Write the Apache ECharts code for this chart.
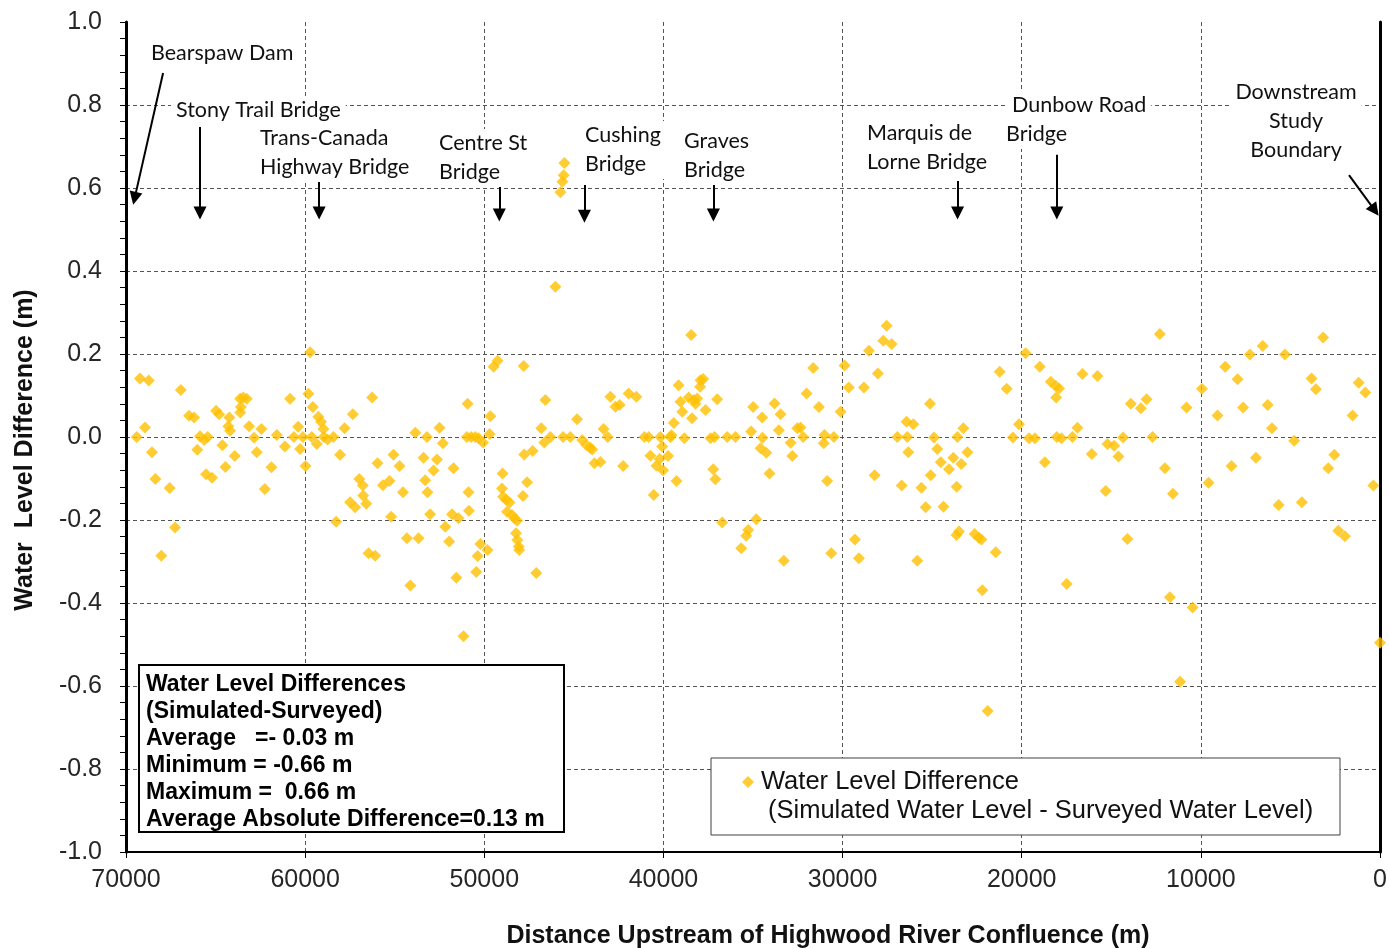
<!DOCTYPE html>
<html>
<head>
<meta charset="utf-8">
<title>Water Level Difference along the Bow River</title>
<script src="https://cdn.jsdelivr.net/npm/echarts@6/dist/echarts.min.js"></script>
<style>
  html, body { margin: 0; padding: 0; background: #fff; }
  #chart { width: 1389px; height: 948px; }
</style>
</head>
<body>
<div id="chart"></div>
<script>
// Distance upstream of the Highwood River confluence (m)
const distance = [
  69400, 69220, 68730, 68940, 68550, 68360, 68030, 67560, 67260, 66940,
  66480, 66200, 66020, 65870, 65640, 65440, 65530, 65200, 64970, 64800,
  64620, 64450, 64230, 64290, 64190, 63930, 63630, 63450, 63260, 63590,
  63620, 63130, 62850, 62700, 62440, 62250, 61880, 61580, 61130, 60840,
  60630, 60390, 60280, 60130, 59980, 59720, 59820, 59570, 59260, 59110,
  58980, 59630, 59350, 58960, 58750, 58420, 58050, 58270, 57800, 57340,
  56260, 55960, 56980, 56780, 56760, 56590, 57490, 57210, 56460, 56090,
  55660, 55290,
  55200, 55070, 54730, 54540, 54320, 54130, 53850, 53670, 53390, 53300,
  53170, 53200, 53020, 52830, 52640, 52500, 52310, 52180, 51960, 51800,
  51720, 51560, 51440, 51160, 50930, 50880, 50860, 50970, 50730, 50500,
  50320, 50070, 50450, 50370, 50220, 49820, 49700, 49660, 49480, 49260,
  48980, 49010, 48950, 48770, 48590, 48730, 48450, 48320, 48170, 48230,
  48160, 48080, 48050, 47800, 47840, 47610, 47770, 47300, 47100, 46820,
  46590, 46650, 46310, 45530, 45570, 45640, 45750, 46030, 45600, 45200,
  44820, 44540, 44300, 44080, 43980, 43850, 43520, 43340, 43110, 42960,
  42680, 42440, 42250, 41940, 41510,
  41060, 40820, 40730, 40390, 40210, 40020, 39740, 40540, 40170, 39610,
  39550, 40070, 39270, 39420, 38830, 38950, 39050, 39150, 38450, 38590,
  38310, 38120, 38210, 38400, 37930, 37780, 37950, 37650, 37000, 37370,
  37150, 37220, 37100, 36440, 35980, 36720, 35100, 34990, 34490, 34470,
  34580, 34260, 34820, 35270, 35380, 35660, 34080, 33800, 33460, 33560,
  33280, 32900, 32810, 32530, 32350, 32200, 32010, 31640, 31320, 31010,
  31050, 30490, 30860, 30630, 30110, 29890, 29650, 29310, 29090, 28810,
  28530, 28210, 28030,
  27540, 27730, 27260, 26940, 26390, 26430, 26050, 26330, 26700, 25830,
  25600, 25360, 25120, 25080, 24900, 24710, 24520, 24370, 24060, 23820,
  23590, 23370, 23260, 23030, 23630, 23640, 23500, 22630, 22390, 22250,
  22200, 21900, 21450, 21230, 20840, 20490, 20150, 19780, 19590, 19260,
  18990, 18710, 18380, 18100, 17920, 18080, 18040, 17780, 17490, 17170,
  16890, 16610, 16090, 15770, 15310, 15210, 14840, 14600, 14340, 14100,
  13910,
  12290, 13350, 13030, 12700, 12010, 11560, 11730, 11160, 10800, 10460,
  9940, 9570, 9070, 8640, 8290, 7950, 7640, 7260, 6930, 6550,
  6270, 6030, 5660, 5310, 4790, 4360, 3820, 3580, 3170, 2890,
  2550, 2330, 1960, 1530, 1190, 820, 370, 0
];

// Simulated minus surveyed water level (m), same order as distance
const difference = [
  0.000, 0.141, 0.136, 0.023, -0.037, -0.101, -0.286, -0.123, -0.218, 0.113,
  0.051, 0.047, -0.031, 0.002, -0.007, 0.000, -0.090, -0.098, 0.063, 0.055,
  -0.020, -0.072, 0.047, 0.026, 0.015, -0.046, 0.092, 0.095, 0.092, 0.072,
  0.059, 0.026, -0.002, -0.037, 0.019, -0.125, -0.073, 0.005, -0.023, 0.092,
  0.000, 0.025, -0.029, 0.000, -0.070, 0.204, 0.104, 0.072, 0.049, 0.037,
  0.019, 0.000, -0.017, 0.000, -0.006, 0.000, -0.043, -0.204, 0.021, 0.055,
  0.095, -0.063, -0.101, -0.117, -0.141, -0.161, -0.157, -0.169, -0.280, -0.286,
  -0.116, -0.106,
  -0.192, -0.043, -0.070, -0.133, -0.244, -0.358, 0.010, -0.244, -0.050, -0.104,
  -0.133, 0.000, -0.186, -0.081, -0.054, 0.022, -0.015, -0.216, -0.252, -0.186,
  -0.075, -0.339, -0.196, -0.480, 0.080, -0.133, -0.178, 0.000, 0.000, 0.000,
  -0.003, -0.013, -0.325, -0.287, -0.258, -0.272, 0.007, 0.050, 0.169, 0.184,
  -0.088, -0.124, -0.144, -0.152, -0.158, -0.180, -0.188, -0.196, -0.202, -0.232,
  -0.248, -0.264, -0.272, 0.171, -0.142, -0.109, -0.042, -0.034, -0.328, 0.021,
  0.089, -0.013, 0.000, 0.660, 0.631, 0.615, 0.590, 0.362, 0.000, 0.000,
  0.043, -0.007, -0.019, -0.026, -0.030, -0.063, -0.060, 0.019, 0.000, 0.097,
  0.073, 0.077, -0.070, 0.105, 0.097,
  0.000, 0.000, -0.045, -0.069, -0.053, -0.080, -0.046, -0.140, 0.000, 0.000,
  0.004, -0.023, -0.106, 0.034, -0.003, 0.061, 0.085, 0.125, 0.246, 0.095,
  0.089, 0.093, 0.080, 0.045, 0.137, 0.140, 0.121, 0.065, 0.091, -0.003,
  0.000, -0.078, -0.102, 0.000, 0.000, -0.206, 0.013, 0.072, 0.047, -0.002,
  -0.027, -0.038, -0.198, -0.224, -0.238, -0.268, -0.088, 0.081, 0.055, 0.016,
  -0.298, -0.014, -0.046, 0.021, 0.023, 0.000, 0.105, 0.166, 0.072, 0.005,
  -0.015, 0.000, -0.106, -0.280, 0.061, 0.172, 0.119, -0.247, -0.292, 0.119,
  0.208, -0.092, 0.153,
  0.268, 0.232, 0.224, 0.000, 0.000, 0.037, 0.031, -0.037, -0.117, -0.298,
  -0.122, -0.169, 0.080, -0.092, -0.001, -0.029, -0.061, -0.168, -0.078, -0.050,
  0.000, -0.065, 0.021, -0.037, -0.120, -0.236, -0.228, -0.234, -0.243, -0.247,
  -0.369, -0.660, -0.278, 0.157, 0.116, -0.001, 0.031, 0.202, -0.003, -0.003,
  0.169, -0.061, 0.133, 0.123, 0.117, 0.095, 0.000, -0.003, -0.354, 0.000,
  0.022, 0.152, -0.041, 0.147, -0.130, -0.017, -0.021, -0.047, -0.001, -0.246,
  0.080,
  0.248, 0.069, 0.091, 0.000, -0.075, -0.137, -0.386, -0.590, 0.071, -0.411,
  0.116, -0.110, 0.052, 0.169, -0.070, 0.139, 0.071, 0.199, -0.050, 0.219,
  0.077, 0.021, -0.164, 0.199, -0.009, -0.157, 0.141, 0.115, 0.240, -0.075,
  -0.043, -0.226, -0.239, 0.052, 0.131, 0.107, -0.117, -0.496
];

// Axis ticks
const xTicks = [70000, 60000, 50000, 40000, 30000, 20000, 10000, 0];
const yTicks = [-1.0, -0.8, -0.6, -0.4, -0.2, 0.0, 0.2, 0.4, 0.6, 0.8, 1.0];

// Landmark pointers: [distance, difference] at the tail and at the arrow head
const pointerTails = [
  [67930, 0.877], [65870, 0.747], [59220, 0.624], [49160, 0.607], [44410, 0.607],
  [37210, 0.607], [23580, 0.617], [18040, 0.680], [1730, 0.631]
];
const pointerHeads = [
  [69520, 0.575], [65870, 0.540], [59220, 0.540], [49160, 0.535], [44410, 0.532],
  [37210, 0.535], [23580, 0.540], [18040, 0.540], [290, 0.546]
];

// Summary statistics
const statLines = [
  'Water Level Differences',
  '(Simulated-Surveyed)',
  'Average   =- 0.03 m',
  'Minimum = -0.66 m',
  'Maximum =  0.66 m',
  'Average Absolute Difference=0.13 m'
];

const seriesName = 'Water Level Difference';
const seriesSubName = '(Simulated Water Level - Surveyed Water Level)';

const points = distance.map((d, i) => [d, difference[i]]);
const pointerData = pointerTails.map((t, i) => [
  { coord: t, symbol: 'none' },
  { coord: pointerHeads[i], symbol: 'triangle', symbolSize: 13 }
]);

const ARIAL = "'Liberation Sans', Arial, sans-serif";
const NOTE_FONT = "21.5px Lato, 'Open Sans', sans-serif";

function note(text, x, yTop, align) {
  return {
    type: 'text', x: x, y: yTop, z: 6, silent: true,
    style: {
      text: text, font: NOTE_FONT, fill: '#111',
      textAlign: align || 'left', textVerticalAlign: 'top',
      lineHeight: 29, backgroundColor: '#fff', padding: [0, 5, 0, 5]
    }
  };
}

const chart = echarts.init(document.getElementById('chart'), null, { renderer: 'canvas' });

chart.setOption({
  animation: false,
  backgroundColor: '#fff',
  grid: {
    left: 126, right: 9, top: 22, bottom: 96,
    containLabel: false, outerBoundsMode: 'none'
  },
  xAxis: {
    type: 'value', inverse: true,
    min: xTicks[xTicks.length - 1], max: xTicks[0], interval: 10000,
    name: 'Distance Upstream of Highwood River Confluence (m)',
    nameLocation: 'middle', nameGap: 72,
    nameTextStyle: {
      fontFamily: ARIAL, fontWeight: 'bold', fontSize: 25, color: '#111',
      padding: [0, 0, 0, 150]
    },
    axisLine: { show: true, onZero: false, lineStyle: { color: '#000', width: 2 } },
    axisTick: { show: true, length: 6, lineStyle: { color: '#000', width: 1 } },
    axisLabel: {
      fontFamily: ARIAL, fontSize: 25, color: '#262626', margin: 16,
      formatter: v => String(v)
    },
    splitLine: {
      show: true, showMinLine: false, showMaxLine: false,
      lineStyle: { color: '#555', width: 1, type: [4, 3] }
    }
  },
  yAxis: [{
    type: 'value',
    min: yTicks[0], max: yTicks[yTicks.length - 1], interval: 0.2,
    name: 'Water  Level Difference (m)',
    nameLocation: 'middle', nameGap: 88,
    nameTextStyle: {
      fontFamily: "'Liberation Sans Narrow', 'Arial Narrow', sans-serif",
      fontWeight: 'bold', fontSize: 25, color: '#111',
      padding: [0, 26, 0, 0]
    },
    axisLine: { show: true, onZero: false, lineStyle: { color: '#000', width: 3 } },
    axisTick: { show: true, length: 6, lineStyle: { color: '#000', width: 1 } },
    minorTick: { show: true, splitNumber: 5, length: 6, lineStyle: { color: '#000', width: 1 } },
    axisLabel: {
      fontFamily: ARIAL, fontSize: 25, color: '#262626', margin: 24,
      formatter: v => v.toFixed(1)
    },
    splitLine: {
      show: true, showMinLine: false, showMaxLine: false,
      lineStyle: { color: '#555', width: 1, type: [4, 3] }
    }
  }, {
    type: 'value', position: 'right',
    min: yTicks[0], max: yTicks[yTicks.length - 1], interval: 0.2,
    axisLine: { show: true, onZero: false, lineStyle: { color: '#000', width: 3 } },
    axisTick: { show: false }, minorTick: { show: false },
    axisLabel: { show: false }, splitLine: { show: false }
  }],
  legend: {
    data: [seriesName], left: 742, top: 768, padding: 0,
    itemWidth: 12, itemHeight: 12, itemGap: 0, selectedMode: false,
    textStyle: { fontFamily: ARIAL, fontSize: 25.5, color: '#111', lineHeight: 28, padding: [0, 0, 0, 2] }
  },
  series: [{
    name: seriesName, type: 'scatter', yAxisIndex: 0,
    symbol: 'diamond', symbolSize: 12,
    itemStyle: { color: '#FFC000' },
    emphasis: { disabled: true },
    data: points,
    markLine: {
      silent: true, animation: false,
      symbol: ['none', 'triangle'], symbolSize: 13,
      label: { show: false },
      lineStyle: { color: '#000', width: 2, type: 'solid' },
      emphasis: { disabled: true },
      data: pointerData
    }
  }],
  graphic: [
    note('Bearspaw Dam', 146, 39),
    note('Stony Trail Bridge', 171, 96),
    note('Trans-Canada\nHighway Bridge', 255, 124),
    note('Centre St\nBridge', 434, 129),
    note('Cushing\nBridge', 580, 121),
    note('Graves\nBridge', 679, 127),
    note('Marquis de\nLorne Bridge', 862, 119),
    note('Dunbow Road', 1007, 91),
    note('Bridge', 1001, 120),
    note('Downstream\nStudy\nBoundary', 1296, 78, 'center'),
    {
      type: 'rect', z: 3, silent: true,
      shape: { x: 139, y: 665, width: 425, height: 167 },
      style: { fill: '#fff', stroke: '#000', lineWidth: 2 }
    },
    {
      type: 'text', x: 146, y: 671, z: 5, silent: true,
      style: {
        text: statLines.join('\n'),
        font: "bold 23px 'Liberation Sans', Arial, sans-serif",
        fill: '#000', lineHeight: 27, textVerticalAlign: 'top'
      }
    },
    {
      type: 'rect', z: 3, silent: true,
      shape: { x: 711, y: 758, width: 629, height: 77 },
      style: { fill: '#fff', stroke: '#404040', lineWidth: 1 }
    },
    {
      type: 'text', x: 768, y: 797, z: 5, silent: true,
      style: {
        text: seriesSubName,
        font: "25.5px 'Liberation Sans', Arial, sans-serif",
        fill: '#111', lineHeight: 28, textVerticalAlign: 'top'
      }
    }
  ]
});
</script>
</body>
</html>
